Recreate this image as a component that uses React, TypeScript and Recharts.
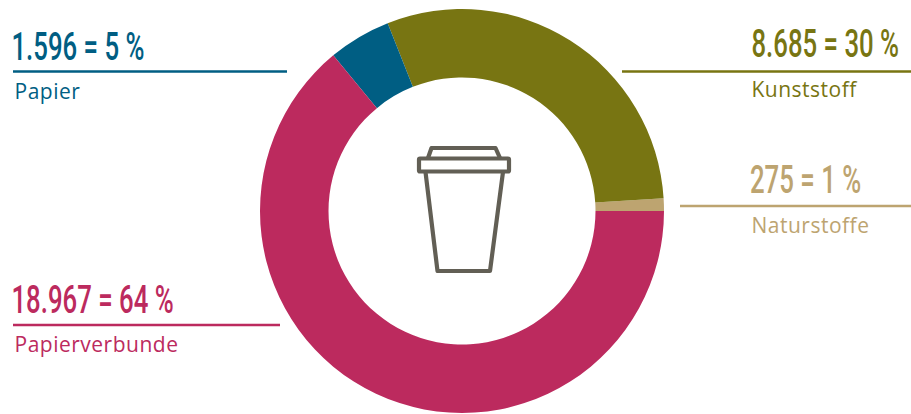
import React from "react";
import { PieChart, Pie, Cell } from "recharts";

// Material shares of disposable cups, counted clockwise from the right-hand edge
const materials = ["Naturstoffe", "Kunststoff", "Papier", "Papierverbunde"];
const amounts = [275, 8685, 1596, 18967];
const percents = [1, 30, 5, 64];
const colors = ["#bda470", "#787512", "#005e83", "#bc2a5e"];

// Callout geometry per material, in the same order
const headlineX = [750, 751.5, 11.5, 11.5];
const headlineY = [193, 57, 60, 313];
const ruleX1 = [680, 622, 13, 13];
const ruleX2 = [911, 911, 287, 280];
const ruleY = [206, 71.5, 71.5, 325];
const captionX = [751.5, 751.5, 14.5, 14.5];
const captionY = [233, 97, 99, 352];

// The ring is sized by the rounded shares printed in the headlines
const rows = materials.map((name, i) => ({ name, value: percents[i] }));

const formatAmount = (n: number) => {
  const s = String(n);
  return s.length > 3 ? `${s.slice(0, -3)}.${s.slice(-3)}` : s;
};

// Headlines use a condensed look, squeezed horizontally from the regular cut
const HEADLINE_SQUEEZE = 0.66;
const CUP = "#625f55";

function Callouts() {
  return (
    <g>
      {materials.map((name, i) => (
        <g key={name} fill={colors[i]}>
          <text
            transform={`translate(${headlineX[i]} ${headlineY[i]}) scale(${HEADLINE_SQUEEZE} 1)`}
            fontFamily="Roboto, sans-serif"
            fontWeight={500}
            fontSize={39}
          >
            {`${formatAmount(amounts[i])} = ${percents[i]} %`}
          </text>
          <line
            x1={ruleX1[i]}
            x2={ruleX2[i]}
            y1={ruleY[i]}
            y2={ruleY[i]}
            stroke={colors[i]}
            strokeWidth={2.4}
          />
          <text x={captionX[i]} y={captionY[i]} fontFamily="'Open Sans', sans-serif" fontSize={21} letterSpacing={0.5}>
            {name}
          </text>
        </g>
      ))}
    </g>
  );
}

function CupIcon() {
  return (
    <g fill="none" stroke={CUP} strokeWidth={4.2} strokeLinejoin="round">
      <rect x={419} y={158.5} width={90} height={13} rx={1} />
      <path d="M428 158 L431.5 148 L495.5 148 L500 158" />
      <path d="M425.5 172 L437.5 271 L490 271 L503 172" />
    </g>
  );
}

export default function App() {
  return (
    <div style={{ position: "absolute", left: 0, top: 0, width: 911, height: 414 }}>
      <PieChart width={911} height={414} margin={{ top: 0, right: 0, bottom: 0, left: 0 }}>
        <Pie
          data={rows}
          dataKey="value"
          nameKey="name"
          cx={462}
          cy={211}
          innerRadius={133.5}
          outerRadius={202}
          startAngle={0}
          endAngle={360}
          stroke="none"
          isAnimationActive={false}
        >
          {rows.map((row, i) => (
            <Cell key={row.name} fill={colors[i]} />
          ))}
        </Pie>
        <CupIcon />
        <Callouts />
      </PieChart>
    </div>
  );
}
